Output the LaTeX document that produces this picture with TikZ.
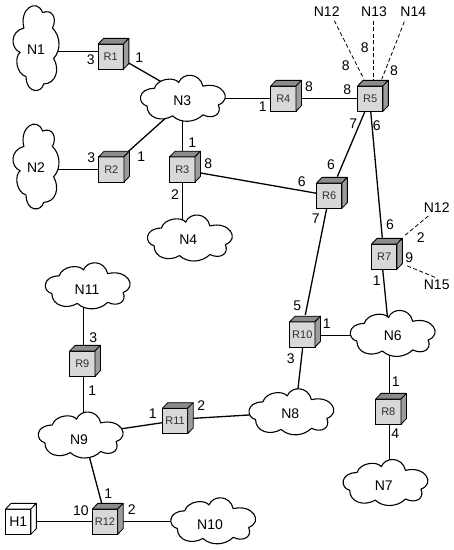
\documentclass[tikz,border=0pt]{standalone}
\usepackage{fontspec}
\setmainfont{Liberation Sans}
\usetikzlibrary{calc}
\pgfdeclarelayer{bglinks}
\pgfsetlayers{bglinks,main}
\definecolor{facecol}{HTML}{D8D8D8}
\definecolor{topcol}{HTML}{8C8C8C}
\definecolor{sidecol}{HTML}{9C9C9C}
\definecolor{rtext}{HTML}{303030}
\tikzset{
  x=1pt,y=-1pt,
  edge/.style={line width=1.3pt,black},
  dashlink/.style={line width=.8pt,black,dash pattern=on 4pt off 2.5pt},
  routerbox/.style={draw=black,line width=.8pt,fill=facecol,rectangle,minimum size=25.3pt,inner sep=0pt,outer sep=0pt,text=rtext,font=\fontsize{11}{11}\selectfont},
  hostbox/.style={routerbox,fill=white,text=black,font=\fontsize{14}{14}\selectfont},
  outline/.style={draw=black,line width=.8pt,line join=round},
  cloudline/.style={draw=black,fill=white,line width=1.1pt,line join=round},
  netlabel/.style={inner sep=0pt,font=\fontsize{14}{14}\selectfont},
  portlabel/.style={inner sep=0pt,font=\fontsize{14}{14}\selectfont},
}
\newcommand{\routerat}[3]{%
  \node[routerbox] (#1) at (#2,#3) {#1};
  \draw[outline,fill=topcol] (#1.north west) -- ++(5.5,-5.7) -- ++(25.3,0) -- (#1.north east) -- cycle;
  \draw[outline,fill=sidecol] (#1.north east) -- ++(5.5,-5.7) -- ++(0,25.3) -- (#1.south east) -- cycle;
}
\newcommand{\hostat}[3]{%
  \node[hostbox] (#1) at (#2,#3) {#1};
  \draw[outline,fill=white] (#1.north west) -- ++(5.5,-5.7) -- ++(25.3,0) -- (#1.north east) -- cycle;
  \draw[outline,fill=white] (#1.north east) -- ++(5.5,-5.7) -- ++(0,25.3) -- (#1.south east) -- cycle;
}
% name, cx, cy, x vector, y vector, text x, text y
\newcommand{\netcloud}[7]{%
  \coordinate (#1) at (#2,#3);
  \begin{scope}[shift={(#2,#3)},x={(#4)},y={(#5)}]
    \draw[cloudline] (-.70,-.45)
      .. controls (-.62,-.92) and (-.20,-.98) .. (-.10,-.72)
      .. controls (.0,-1.18) and (.42,-1.18) .. (.50,-.55)
      .. controls (.98,-.78) and (1.25,.05) .. (.88,.30)
      .. controls (.98,.72) and (.75,.98) .. (.50,.75)
      .. controls (.30,1.12) and (-.05,1.15) .. (-.25,.80)
      .. controls (-.52,1.10) and (-.88,.90) .. (-.88,.35)
      .. controls (-1.12,.25) and (-1.12,-.45) .. cycle;
  \end{scope}
  \node[netlabel] (#1t) at (#6,#7) {#1};
}
\newcommand{\link}[4]{\draw[edge] ([shift={(#2)}]#1.center) -- ([shift={(#4)}]#3.center);}
\newcommand{\dlink}[4]{\draw[dashlink] ([shift={(#2)}]#1.center) -- ([shift={(#4)}]#3.center);}
\begin{document}
\begin{tikzpicture}
\useasboundingbox (0,0) rectangle (454,550);
% clouds
\def\hw{40.5pt,0pt}\def\hh{0pt,-22pt}
\netcloud{N1}{36}{48.3}{0pt,40.5pt}{22pt,0pt}{36}{49.3}
\netcloud{N2}{36}{166.7}{0pt,40.5pt}{22pt,0pt}{36}{167.7}
\netcloud{N3}{182.7}{98.3}{\hw}{\hh}{182.3}{101}
\netcloud{N4}{189.7}{238}{\hw}{\hh}{188.3}{240}
\netcloud{N11}{87.5}{285.8}{\hw}{\hh}{87}{289.3}
\netcloud{N9}{80.5}{435}{\hw}{\hh}{79}{439.3}
\netcloud{N10}{213}{520.8}{\hw}{\hh}{210}{524.3}
\netcloud{N8}{291.2}{411.8}{\hw}{\hh}{290.3}{413.3}
\netcloud{N6}{392.5}{333.4}{\hw}{\hh}{392.7}{335.7}
\netcloud{N7}{385.3}{482.5}{\hw}{\hh}{383.7}{486}
% routers
\routerat{R1}{110.7}{56.7}
\routerat{R2}{111.3}{169.5}
\routerat{R3}{182.3}{169.5}
\routerat{R4}{283.3}{98.7}
\routerat{R5}{370.2}{98.7}
\routerat{R6}{329.2}{195.7}
\routerat{R7}{384.2}{256.7}
\routerat{R8}{388.3}{411.7}
\routerat{R9}{82.3}{363.7}
\routerat{R10}{302.3}{334.5}
\routerat{R11}{175}{421}
\routerat{R12}{105}{521.7}
\hostat{H1}{18.2}{521.7}
% free labels
\node[netlabel] (T12) at (326.7,11.7) {N12};
\node[netlabel] (T13) at (374,11.7) {N13};
\node[netlabel] (T14) at (413.3,11.7) {N14};
\node[netlabel] (T12b) at (436.7,207.3) {N12};
\node[netlabel] (T15) at (436.7,285) {N15};
% port numbers
\foreach \n/\px/\py/\t in {
 a/90.7/59.3/3, b/139.3/57.3/1, c/91.3/157.7/3, d/141.3/156.7/1,
 e/192.3/142.7/1, f/208.3/163.3/8, g/175/195/2, h/262.7/106.7/1,
 i/309/86.7/8, j/347.3/89.3/8, k/345.7/65.3/8, l/364.7/47.7/8,
 m/394/71/8, n/353.3/124/7, o/376.7/125.3/6, q/331/164.3/6,
 r/301.7/181.7/6, s/315.7/218.3/7, t/390/225/6, u/420.7/237.3/2,
 v/409.3/257.7/9, w/93.3/337.3/3, x/92.3/391/1, y/152.7/414/1,
 z/201.3/405.3/2, aa/108.3/493.3/1, ab/81/511/10, ac/131.7/509.3/2,
 ad/376.7/281/1, ae/297.3/305.7/5, af/326.7/324/1, ag/290.7/358.7/3,
 ah/395.7/381.7/1, ai/395.3/433.3/4}
  \node[portlabel] (p\n) at (\px,\py) {\t};
% connectors, beneath the nodes
\begin{pgfonlayer}{bglinks}
\link{N1}{18,3.2}{R1}{-12.7,-5.2}
\link{R1}{14.3,4.2}{N3}{-18.7,-15}
\link{N2}{18,3.1}{R2}{-12.6,.3}
\link{N3}{-14,17}{R2}{12.7,-14.1}
\link{N3}{-.4,18}{R3}{0,-12.5}
\link{R3}{0,12.5}{N4}{-7.4,-16}
\link{N3}{36,.4}{R4}{-12.6,0}
\link{R4}{12.6,0}{R5}{-12.5,0}
\link{R3}{12.7,2.5}{R6}{-12.5,-2.4}
\link{R5}{-5.2,12.6}{R6}{8.1,-19}
\link{R5}{.5,12.6}{R7}{-1.9,-19}
\link{R6}{-2.5,12.6}{R10}{3,-19.5}
\link{R7}{-1.5,12.6}{N6}{-4.8,-14}
\link{R10}{13,1}{N6}{-36,2.1}
\link{R10}{.4,12.8}{N8}{6.2,-18}
\link{N6}{-3.2,18}{R8}{1,-12.7}
\link{R8}{1,12.6}{N7}{4,-18}
\link{N11}{-4.2,18}{R9}{1,-12.7}
\link{R9}{1,12.6}{N9}{2.8,-18}
\link{N9}{36,-5.5}{R11}{-12.7,1.7}
\link{R11}{12.7,-2.3}{N8}{-36,2.8}
\link{N9}{7.8,18}{R12}{-3.3,-18.4}
\link{H1}{12.5,0}{R12}{-12.7,0}
\link{R12}{12.7,0}{N10}{-36,.9}
\dlink{T12}{7.6,9}{R5}{-6.2,-19.4}
\dlink{T13}{-.7,9}{R5}{3.1,-19.4}
\dlink{T14}{-9,10}{R5}{11.5,-19.4}
\dlink{T12b}{-8.4,8.7}{R7}{19.1,-20}
\dlink{T15}{-1.7,-7.7}{R7}{20.8,8.3}
\end{pgfonlayer}
\end{tikzpicture}
\end{document}
